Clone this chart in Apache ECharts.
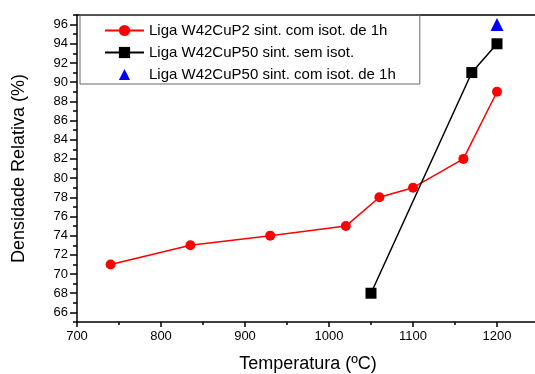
<!DOCTYPE html>
<html>
<head>
<meta charset="utf-8">
<script src="https://cdn.jsdelivr.net/npm/echarts@6/dist/echarts.min.js"></script>
<style>
  html, body { margin: 0; padding: 0; background: #fff; }
  #main { width: 535px; height: 374px; }
</style>
</head>
<body>
<div id="main"></div>
<script>
// data
const tempP2 = [740, 835, 930, 1020, 1060, 1100, 1160, 1200];
const densP2 = [71, 73, 74, 75, 78, 79, 82, 89];
const tempP50 = [1050, 1170, 1200];
const densP50 = [68, 91, 94];
const tempP50iso = [1200];
const densP50iso = [96];
const seriesNames = [
    'Liga W42CuP2 sint. com isot. de 1h',
    'Liga W42CuP50 sint. sem isot.',
    'Liga W42CuP50 sint. com isot. de 1h'
];
// labelled ticks on the density axis
const densTicks = [66, 68, 70, 72, 74, 76, 78, 80, 82, 84, 86, 88, 90, 92, 94, 96];

function pairs(xs, ys) {
    return xs.map((x, i) => [x, ys[i]]);
}

const chart = echarts.init(document.getElementById('main'));
const font = 'Arial, "Liberation Sans", sans-serif';
const black = { color: '#000', width: 1.5 };

const option = {
    animation: false,
    textStyle: { fontFamily: font },
    grid: { left: 77, top: 15, width: 462, height: 307, outerBoundsMode: 'none', containLabel: false },
    legend: {
        orient: 'vertical',
        left: 80,
        top: 15,
        padding: [8, 24, 2, 24],
        itemGap: 7,
        itemWidth: 39,
        itemHeight: 14,
        borderColor: '#666',
        borderWidth: 1,
        textStyle: { fontFamily: font, fontSize: 15, color: '#000' },
        data: seriesNames
    },
    xAxis: [{
        type: 'value',
        min: 700,
        max: 1250,
        interval: 100,
        name: 'Temperatura (ºC)',
        nameLocation: 'middle',
        nameGap: 33,
        nameTextStyle: { fontSize: 18, color: '#000', fontFamily: font },
        axisLine: { lineStyle: black },
        axisTick: { length: 5, lineStyle: black },
        minorTick: { show: true, splitNumber: 2, length: 3, lineStyle: black },
        axisLabel: {
            fontSize: 13, color: '#000', margin: 8, showMaxLabel: false,
            formatter: v => String(v)
        },
        splitLine: { show: false }
    }, {
        type: 'value',
        position: 'top',
        min: 700,
        max: 1250,
        axisLine: { show: true, onZero: false, lineStyle: black },
        axisTick: { show: false },
        axisLabel: { show: false },
        splitLine: { show: false }
    }],
    yAxis: [{
        type: 'value',
        min: 65,
        max: 97,
        interval: 1,
        name: 'Densidade Relativa (%)',
        nameLocation: 'middle',
        nameGap: 49,
        nameTextStyle: { fontSize: 18, color: '#000', fontFamily: font },
        axisLine: { show: true, lineStyle: black },
        axisTick: { length: 7, lineStyle: black, customValues: densTicks },
        axisLabel: { fontSize: 13, color: '#000', margin: 9, customValues: densTicks },
        splitLine: { show: false }
    }, {
        type: 'value',
        position: 'left',
        offset: 0,
        min: 65,
        max: 97,
        interval: 1,
        axisLine: { show: false },
        axisTick: { length: 4, lineStyle: black },
        axisLabel: { show: false },
        splitLine: { show: false }
    }],
    series: [{
        name: seriesNames[0],
        type: 'line',
        data: pairs(tempP2, densP2),
        symbol: 'circle',
        symbolSize: 10,
        itemStyle: { color: '#ff0000' },
        lineStyle: { color: '#ff0000', width: 1.5 }
    }, {
        name: seriesNames[1],
        type: 'line',
        data: pairs(tempP50, densP50),
        symbol: 'rect',
        symbolSize: 11,
        itemStyle: { color: '#000' },
        lineStyle: { color: '#000', width: 1.5 }
    }, {
        name: seriesNames[2],
        type: 'line',
        data: pairs(tempP50iso, densP50iso),
        symbol: 'triangle',
        symbolSize: 13,
        itemStyle: { color: '#0000ff' },
        lineStyle: { color: '#0000ff', width: 0, opacity: 0 }
    }]
};

chart.setOption(option);
window.addEventListener('resize', function () {
    chart.resize();
});
</script>
</body>
</html>
